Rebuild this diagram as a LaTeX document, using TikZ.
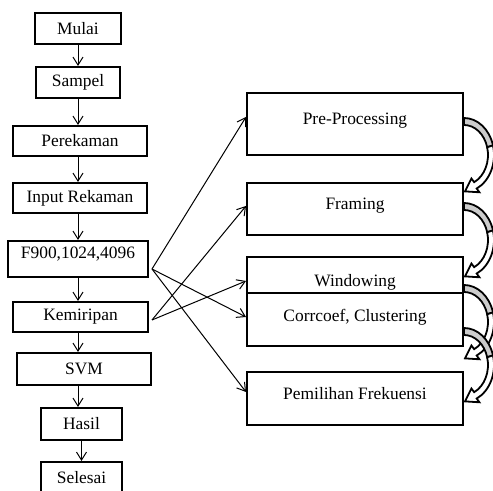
\documentclass[tikz,border=0pt]{standalone}
\usepackage{fontspec}
\setmainfont{Liberation Serif}
\usetikzlibrary{positioning}
\usetikzlibrary{arrows.meta}
\tikzset{
    box/.style={
        draw,
        line width=1pt,
        inner sep=0pt,
        font=\fontsize{8.7}{10}\selectfont
    },
    every edge/.append style={
        draw,
        -{Straight Barb[length=4pt,width=5pt]},
        line width=0.5pt
    },
    bendarrow/.pic={
        \filldraw[line width=0.9pt, fill=gray!40]
            (90:30 and 37) arc[start angle=90, end angle=15, x radius=30, y radius=37]
            -- (15:24 and 30) arc[start angle=15, end angle=90, x radius=24, y radius=30] -- cycle;
        \filldraw[line width=0.9pt, fill=white]
            (15:30 and 37) arc[start angle=15, end angle=-65, x radius=30, y radius=37]
            -- (15.4,-37.3) -- (1,-36.4) -- (7.4,-23.5)
            -- (-65:24 and 30) arc[start angle=-65, end angle=15, x radius=24, y radius=30] -- cycle;
    }
}

\begin{document}
\begin{tikzpicture}[x=0.5pt, y=0.5pt]
                \useasboundingbox (0,0) rectangle (493,491);

                % left column
                \node[box, minimum width=43pt, minimum height=15.5pt] (mulai) at (78,462.5) {Mulai};
                \node[box, minimum width=42pt, minimum height=15.5pt] (sampel) at (78,408.5) {Sampel};
                \node[box, minimum width=67pt, minimum height=15pt] (perekaman) at (80,350) {Perekaman};
                \node[box, minimum width=67pt, minimum height=15pt] (input) at (80,293) {Input Rekaman};
                \node[box, minimum width=70pt, minimum height=18pt, text height=5.9pt, text depth=6.3pt] (f900) at (78,232) {F900,1024,4096};
                \node[box, minimum width=67.5pt, minimum height=15pt] (kemiripan) at (80.5,174) {Kemiripan};
                \node[box, minimum width=67pt, minimum height=16pt] (svm) at (84,122) {SVM};
                \node[box, minimum width=40.5pt, minimum height=16pt] (hasil) at (81.5,67) {Hasil};
                \node[box, minimum width=40.5pt, minimum height=16pt] (selesai) at (81.5,13) {Selesai};

                % right column
                \node[box, minimum width=108pt, minimum height=31pt, text height=5.8pt, text depth=5.4pt] (pre) at (355,367) {Pre-Processing};
                \node[box, minimum width=108pt, minimum height=26pt, text height=5.8pt, text depth=5.4pt] (framing) at (355,282) {Framing};
                \node[box, minimum width=108pt, minimum height=18pt, text height=14pt, text depth=2pt] (windowing) at (355,216) {Windowing};
                \node[box, minimum width=108pt, minimum height=26.5pt, text height=5.8pt, text depth=3.9pt] (corr) at (355,171.5) {Corrcoef, Clustering};
                \node[box, minimum width=108pt, minimum height=26.5pt, text height=5.8pt, text depth=4.9pt] (pemilihan) at (355,92.5) {Pemilihan Frekuensi};

                \coordinate (fout) at ([shift={(3,-10)}]f900.east);
                \coordinate (kout) at ([shift={(3,-3)}]kemiripan.east);

                \draw (mulai.south) edge (mulai.south |- sampel.north);
                \draw (sampel.south) edge (sampel.south |- perekaman.north);
                \draw (mulai.south |- perekaman.south) edge (mulai.south |- input.north);
                \draw (mulai.south |- input.south) edge (mulai.south |- f900.north);
                \draw (f900.south) edge (f900.south |- kemiripan.north);
                \draw (f900.south |- kemiripan.south) edge (f900.south |- svm.north);
                \draw (mulai.south |- svm.south) edge (mulai.south |- hasil.north);
                \draw (hasil.south) edge (selesai.north);

                \draw (fout) edge ([yshift=3.5pt]pre.west);
                \draw (fout) edge ([yshift=1.25pt]corr.west);
                \draw (fout) edge ([yshift=3.25pt]pemilihan.west);
                \draw (kout) edge ([yshift=1.5pt]framing.west);
                \draw (kout) edge ([yshift=-3pt]windowing.west);

                \pic at ([yshift=-15.5pt]pre.east) {bendarrow};
                \pic at ([yshift=-15.5pt]framing.east) {bendarrow};
                \pic at ([yshift=-23.5pt]windowing.east) {bendarrow};
                \pic at ([yshift=-22.75pt]corr.east) {bendarrow};
            \end{tikzpicture}
\end{document}
